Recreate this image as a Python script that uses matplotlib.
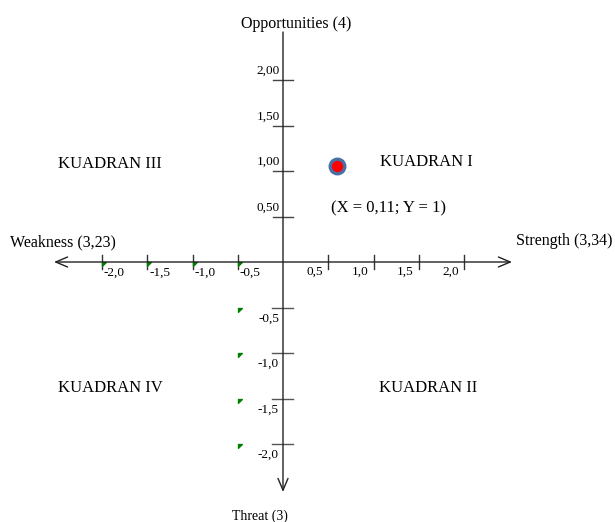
import matplotlib.pyplot as plt
from matplotlib.transforms import offset_copy

plt.rcParams['font.family'] = ['Liberation Serif', 'DejaVu Serif']

# data
x_ticks = [-2.0, -1.5, -1.0, -0.5, 0.5, 1.0, 1.5, 2.0]
x_labels = ['-2,0', '-1,5', '-1,0', '-0,5', '0,5', '1,0', '1,5', '2,0']
y_ticks_pos = [0.5, 1.0, 1.5, 2.0]
y_labels_pos = ['0,50', '1,00', '1,50', '2,00']
y_ticks_neg = [-0.5, -1.0, -1.5, -2.0]
y_labels_neg = ['-0,5', '-1,0', '-1,5', '-2,0']
point_x = [0.6]
point_y = [1.05]
point_text = '(X = 0,11; Y = 1)'
quadrants = ['KUADRAN I', 'KUADRAN II', 'KUADRAN III', 'KUADRAN IV']
axis_names = ['Strength (3,34)', 'Weakness (3,23)', 'Opportunities (4)', 'Threat (3)']

# small green marks left in the original drawing
mark_x = [-2.0, -1.5, -1.0, -0.5, -0.5, -0.5, -0.5, -0.5]
mark_y = [0.0, 0.0, 0.0, 0.0, -0.5, -1.0, -1.5, -2.0]

sx, sy = 90.5, 91.0  # pixels per unit
fig = plt.figure(figsize=(6.15, 5.22), dpi=100)
ax = fig.add_axes([0, 0, 1, 1])
ax.set_xlim(-283 / sx, 332 / sx)
ax.set_ylim(-260 / sy, 262 / sy)
ax.axis('off')

def off(dx, dy):
    return offset_copy(ax.transData, fig=fig, x=dx, y=dy, units='dots')

axc = '#222222'
# axes with arrows
ax.annotate('', xy=(-229 / sx, 0), xytext=(229 / sx, 0),
            arrowprops=dict(arrowstyle='<->,head_length=0.85,head_width=0.36',
                            color=axc, lw=1.0, mutation_scale=10,
                            shrinkA=0, shrinkB=0))
ax.annotate('', xy=(0, -230 / sy), xytext=(0, 230 / sy),
            arrowprops=dict(arrowstyle='->,head_length=0.85,head_width=0.36',
                            color=axc, lw=1.0, mutation_scale=10,
                            shrinkA=0, shrinkB=0))

# ticks
for x, lab in zip(x_ticks, x_labels):
    ax.plot([x, x], [-7 / sy, 7 / sy], color='#333333', lw=1.0)
    if x < 0:
        ax.text(x, 0, lab, transform=off(2, -11), ha='left', va='center', fontsize=9.5)
    else:
        ax.text(x, 0, lab, transform=off(-5, -10), ha='right', va='center', fontsize=9.5)

for y, lab in zip(y_ticks_pos, y_labels_pos):
    ax.plot([-10 / sx, 10 / sx], [y, y], color='#444444', lw=1.0)
    ax.text(0, y, lab, transform=off(-3, 9), ha='right', va='center', fontsize=9.5)

for y, lab in zip(y_ticks_neg, y_labels_neg):
    ax.plot([-11 / sx, 10 / sx], [y, y], color='#555555', lw=1.0)
    ax.text(0, y, lab, transform=off(-4, -11), ha='right', va='center', fontsize=9.5)

tri = [(0, 0), (1, 0), (0, -1), (0, 0)]
ax.plot(mark_x, mark_y, linestyle='none', marker=tri, ms=5.5,
        color='#008000', mec='#008000')

# point
ax.plot(point_x, point_y, 'o', ms=10.5, mfc='#ff0000', mec='#4a6fa5', mew=2.4)
ax.text((331 - 283) / sx, (262 - 208) / sy, point_text, ha='left', va='center', fontsize=12)

# quadrant labels
ax.text((426 - 283) / sx, (262 - 162) / sy, quadrants[0], ha='center', va='center', fontsize=12)
ax.text((428 - 283) / sx, (262 - 388) / sy, quadrants[1], ha='center', va='center', fontsize=12)
ax.text((110 - 283) / sx, (262 - 164) / sy, quadrants[2], ha='center', va='center', fontsize=12)
ax.text((110 - 283) / sx, (262 - 388) / sy, quadrants[3], ha='center', va='center', fontsize=12)

# axis names
ax.text((613 - 283) / sx, (262 - 241) / sy, axis_names[0], ha='right', va='center', fontsize=11.5)
ax.text((10 - 283) / sx, (262 - 242) / sy, axis_names[1], ha='left', va='center', fontsize=11.5)
ax.text((296 - 283) / sx, (262 - 24) / sy, axis_names[2], ha='center', va='center', fontsize=11.5)
ax.text((260 - 283) / sx, (262 - 516) / sy, axis_names[3], ha='center', va='center', fontsize=10)

fig.savefig('out.png', dpi=100)
